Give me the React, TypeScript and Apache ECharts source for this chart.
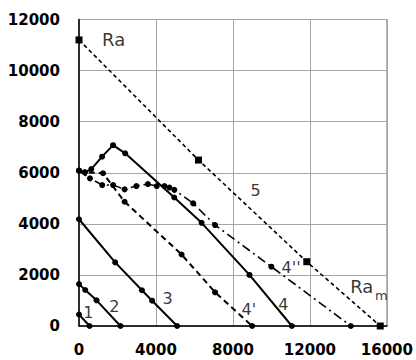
import React, { useEffect, useRef } from "react";
import * as echarts from "echarts";

const xMin = 0;
const xMax = 16000;
const xStep = 4000;
const yMin = 0;
const yMax = 12000;
const yStep = 2000;

const curve1 = [[0, 450], [550, 0]];
const curve2 = [[0, 1640], [325, 1410], [913, 1005], [2155, 0]];
const curve3 = [[0, 4180], [1880, 2490], [3270, 1400], [3800, 990], [5100, 0]];
const curve4 = [[0, 6080], [300, 6015], [640, 6145], [1200, 6630], [1770, 7080], [2400, 6760], [4950, 5030], [6370, 4040], [8860, 2000], [11060, 0]];
const curve4a = [[0, 6080], [300, 6015], [1250, 5980], [2370, 4865], [5330, 2800], [7070, 1320], [9000, 0]];
const curve4b = [[0, 6080], [570, 5780], [1205, 5518], [1773, 5518], [2370, 5350], [2980, 5479], [3580, 5557], [4040, 5479], [4440, 5479], [4700, 5420], [4955, 5330], [5935, 4800], [7070, 3953], [9996, 2322], [14125, 0]];
const curve5 = [[0, 11200], [6210, 6497], [11835, 2517], [15654, 0]];

const bigLabels = ["Ra", "Ra"];
const bigLabelPos = [[1800, 11200], [14694, 1538]];
const numLabels = ["5", "4''", "4", "4'", "3", "2", "1"];
const numLabelPos = [[9171, 5291], [11019, 2290], [10615, 853], [8826, 658], [4610, 1085], [1840, 771], [482, 528]];
const subLabels = ["m"];
const subLabelPos = [[15706, 1213]];

function labelSeries(texts: string[], pos: number[][], size: number) {
  return {
    type: "scatter",
    symbolSize: 0,
    silent: true,
    z: 10,
    data: pos.map((p, i) => ({ value: p, name: texts[i] })),
    label: {
      show: true,
      position: "inside",
      formatter: (p: any) => p.name,
      color: "#000",
      fontFamily: "DejaVu Sans",
      fontSize: size,
    },
  };
}

function lineSeries(data: number[][], type: any, width: number, symbol: string, size: number) {
  return {
    type: "line",
    data,
    symbol,
    symbolSize: size,
    showSymbol: true,
    itemStyle: { color: "#000" },
    lineStyle: { color: "#000", width, type },
  };
}

export default function App() {
  const ref = useRef<HTMLDivElement>(null);
  useEffect(() => {
    const chart = echarts.init(ref.current!, undefined, { renderer: "svg" });
    const axisFont = {
      fontFamily: "DejaVu Sans",
      fontWeight: "bold",
      fontSize: 15,
      color: "#000",
      formatter: (v: number) => String(v),
    };
    chart.setOption({
      animation: false,
      grid: { left: 79, right: 27, top: 19.5, bottom: 34, show: true, borderColor: "#808080", borderWidth: 1 },
      xAxis: {
        type: "value",
        min: xMin,
        max: xMax,
        interval: xStep,
        axisLine: { show: true, onZero: false, lineStyle: { color: "#000", width: 1.5 } },
        axisTick: { show: false },
        axisLabel: { ...axisFont, margin: 16 },
        splitLine: { show: true, lineStyle: { color: "#a6a6a6", width: 1 } },
      },
      yAxis: {
        type: "value",
        min: yMin,
        max: yMax,
        interval: yStep,
        axisLine: { show: true, onZero: false, lineStyle: { color: "#000", width: 1.5 } },
        axisTick: { show: false },
        axisLabel: { ...axisFont, margin: 19 },
        splitLine: { show: true, lineStyle: { color: "#a6a6a6", width: 1 } },
      },
      series: [
        lineSeries(curve1, "solid", 2, "circle", 6),
        lineSeries(curve2, "solid", 2, "circle", 6),
        lineSeries(curve3, "solid", 2, "circle", 6),
        lineSeries(curve4, "solid", 2, "circle", 6),
        lineSeries(curve4a, [6, 4], 2, "circle", 6),
        lineSeries(curve4b, [9, 4, 2, 4], 1.6, "circle", 6),
        lineSeries(curve5, [4, 3], 1.6, "rect", 7),
        labelSeries(bigLabels, bigLabelPos, 18),
        labelSeries(numLabels, numLabelPos, 16),
        labelSeries(subLabels, subLabelPos, 13),
      ],
    });
    return () => chart.dispose();
  }, []);
  return <div ref={ref} style={{ position: "fixed", left: 0, top: 0, width: 416, height: 360, background: "#fff" }} />;
}
